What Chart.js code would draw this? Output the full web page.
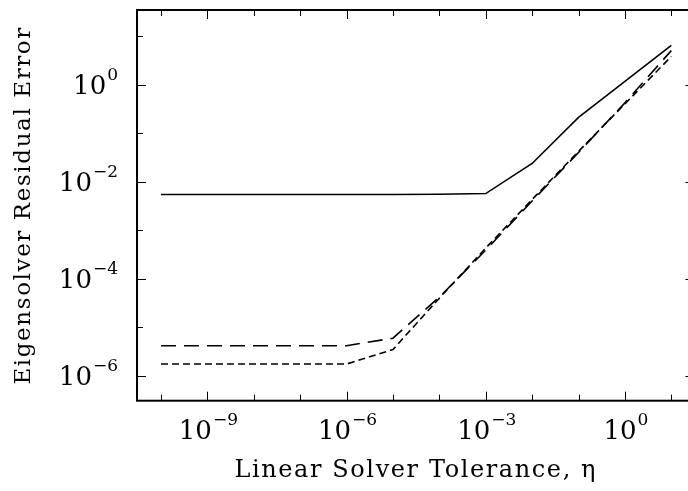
<!DOCTYPE html>
<html>
<head>
<meta charset="utf-8">
<script src="https://cdn.jsdelivr.net/npm/chart.js@4.4.1/dist/chart.umd.min.js"></script>
<style>
  html, body { margin: 0; padding: 0; overflow: hidden; background: #fff; }
</style>
</head>
<body>
<canvas id="residual-chart" width="700" height="491"></canvas>
<script>
// linear solver tolerance (eta), one sample per decade
const tolerance = [1e-10, 1e-9, 1e-8, 1e-7, 1e-6, 1e-5, 1e-4, 1e-3, 1e-2, 1e-1, 1e0, 1e1];
// eigensolver residual error
const errorSolid = [5.45e-3, 5.45e-3, 5.45e-3, 5.45e-3, 5.45e-3, 5.45e-3, 5.5e-3, 5.7e-3, 0.0237, 0.21, 1.16, 6.4];
const errorLongDash = [4.2e-6, 4.2e-6, 4.2e-6, 4.2e-6, 4.2e-6, 6.0e-6, 4.2e-5, 3.9e-4, 4.0e-3, 0.040, 0.42, 5.0];
const errorShortDash = [1.76e-6, 1.76e-6, 1.76e-6, 1.76e-6, 1.76e-6, 3.5e-6, 4.0e-5, 4.3e-4, 4.3e-3, 0.042, 0.40, 3.8];

const xTickLabels = [1e-9, 1e-6, 1e-3, 1e0];
const yTickLabels = [1e-6, 1e-4, 1e-2, 1e0];
const xTickMarks = [1e-10, 1e-9, 1e-8, 1e-7, 1e-6, 1e-5, 1e-4, 1e-3, 1e-2, 1e-1, 1e0, 1e1];
const yTickMarks = [1e-6, 1e-5, 1e-4, 1e-3, 1e-2, 1e-1, 1e0, 1e1];

const FONT = "'DejaVu Serif', 'Liberation Serif', serif";

function pairs(ys) {
  return tolerance.map((x, i) => ({ x: x, y: ys[i] }));
}

function exponent(v) {
  const e = Math.round(Math.log10(v));
  return e < 0 ? "\u2212" + (-e) : String(e);
}

// "10" with a raised exponent; anchor is the right edge or the centre
function drawPow(ctx, v, x, base, align) {
  const exp = exponent(v);
  ctx.font = "26px " + FONT;
  const wBase = ctx.measureText("10").width;
  ctx.font = "17px " + FONT;
  const wExp = ctx.measureText(exp).width;
  const total = wBase + 1 + wExp;
  const left = align === "right" ? x - total : x - total / 2;
  ctx.textAlign = "left";
  ctx.textBaseline = "alphabetic";
  ctx.font = "26px " + FONT;
  ctx.fillText("10", left, base);
  ctx.font = "17px " + FONT;
  ctx.fillText(exp, left + wBase + 1, base - 14);
}

// box, inward ticks on all four sides, power-of-ten labels
const frame = {
  id: "frame",
  beforeDraw(chart) {
    chart.ctx.letterSpacing = "1.6px";
  },
  afterDraw(chart) {
    const ctx = chart.ctx;
    const a = chart.chartArea;
    const xs = chart.scales.x, ys = chart.scales.y;
    ctx.save();
    ctx.letterSpacing = "0px";
    ctx.strokeStyle = "#000";
    ctx.fillStyle = "#000";
    ctx.lineWidth = 1;
    ctx.beginPath();
    xTickMarks.forEach(v => {
      const px = Math.round(xs.getPixelForValue(v)) + 0.5;
      const len = xTickLabels.includes(v) ? 9 : 6;
      ctx.moveTo(px, a.bottom); ctx.lineTo(px, a.bottom - len);
      ctx.moveTo(px, a.top); ctx.lineTo(px, a.top + len);
    });
    yTickMarks.forEach(v => {
      const py = Math.round(ys.getPixelForValue(v)) + 0.5;
      const len = yTickLabels.includes(v) ? 9 : 6;
      ctx.moveTo(a.left, py); ctx.lineTo(a.left + len, py);
      ctx.moveTo(a.right, py); ctx.lineTo(a.right - len, py);
    });
    ctx.stroke();
    ctx.lineWidth = 2;
    ctx.strokeRect(a.left, a.top, a.right - a.left, a.bottom - a.top);

    xs.ticks.forEach(t => {
      drawPow(ctx, t.value, xs.getPixelForValue(t.value) + 1, a.bottom + 38, "center");
    });
    ys.ticks.forEach(t => {
      drawPow(ctx, t.value, a.left - 19, ys.getPixelForValue(t.value) + 9.5, "right");
    });
    ctx.restore();
  }
};

const ctx = document.getElementById("residual-chart");

new Chart(ctx, {
  type: "line",
  data: {
    datasets: [
      { data: pairs(errorSolid), borderColor: "#000", borderWidth: 1.6, pointRadius: 0, tension: 0 },
      { data: pairs(errorLongDash), borderColor: "#000", borderWidth: 1.6, borderDash: [15, 8], pointRadius: 0, tension: 0 },
      { data: pairs(errorShortDash), borderColor: "#000", borderWidth: 1.6, borderDash: [7, 4], pointRadius: 0, tension: 0 },
    ],
  },
  options: {
    responsive: false,
    animation: false,
    events: [],
    layout: { padding: { top: 10, right: 5.5, left: 0, bottom: 0 } },
    plugins: { legend: { display: false }, tooltip: { enabled: false } },
    scales: {
      x: {
        type: "logarithmic",
        min: Math.pow(10, -10.517),
        max: Math.pow(10, 1.5),
        afterBuildTicks: s => { s.ticks = xTickLabels.map(v => ({ value: v })); },
        afterFit: s => { s.height = 90.3; s.paddingLeft = 0; s.paddingRight = 0; },
        grid: { display: false, drawTicks: false },
        border: { display: false },
        ticks: { display: false },
        title: {
          display: true,
          text: "Linear Solver Tolerance, \u03B7",
          color: "#000",
          font: { family: FONT, size: 24 },
          padding: { top: 0, bottom: 6 },
        },
      },
      y: {
        type: "logarithmic",
        min: Math.pow(10, -6.509),
        max: Math.pow(10, 1.535),
        afterBuildTicks: s => { s.ticks = yTickLabels.map(v => ({ value: v })); },
        afterFit: s => { s.width = 137; s.paddingTop = 0; s.paddingBottom = 0; },
        grid: { display: false, drawTicks: false },
        border: { display: false },
        ticks: { display: false },
        title: {
          display: true,
          text: "Eigensolver Residual Error",
          color: "#000",
          font: { family: FONT, size: 23 },
          padding: { top: 10, bottom: 0 },
        },
      },
    },
  },
  plugins: [frame],
});
</script>
</body>
</html>
